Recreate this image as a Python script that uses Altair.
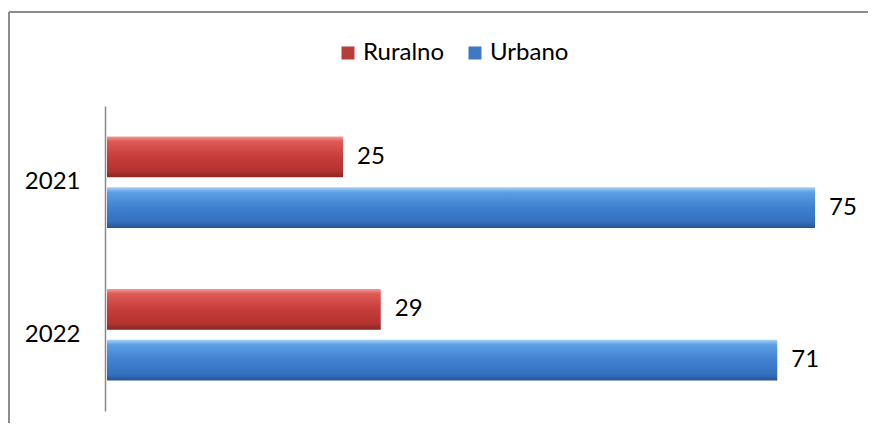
import altair as alt
import pandas as pd

years = ["2021", "2021", "2022", "2022"]
series = ["Ruralno", "Urbano", "Ruralno", "Urbano"]
values = [25, 75, 29, 71]

df = pd.DataFrame({"year": years, "series": series, "value": values})

FONT = "Lato"
W, H = 859, 411

red_grad = alt.Gradient(
    gradient="linear", x1=0, y1=0, x2=0, y2=1,
    stops=[
        alt.GradientStop(offset=0, color="#f29a97"),
        alt.GradientStop(offset=0.12, color="#de5a56"),
        alt.GradientStop(offset=0.5, color="#c63d3a"),
        alt.GradientStop(offset=0.85, color="#b3322f"),
        alt.GradientStop(offset=1, color="#8a2522"),
    ],
)
blue_grad = alt.Gradient(
    gradient="linear", x1=0, y1=0, x2=0, y2=1,
    stops=[
        alt.GradientStop(offset=0, color="#a6d2f8"),
        alt.GradientStop(offset=0.12, color="#5d9fe4"),
        alt.GradientStop(offset=0.5, color="#3f80d0"),
        alt.GradientStop(offset=0.85, color="#3570c0"),
        alt.GradientStop(offset=1, color="#27528f"),
    ],
)

xscale = alt.Scale(domain=[0, 75], range=[98, 806], zero=True, nice=False)
yscale = alt.Scale(range=[94, 399], paddingInner=0.4, paddingOuter=0.2)
yoff = alt.YOffset("series:N", scale=alt.Scale(paddingInner=0.2, paddingOuter=0), sort=["Ruralno", "Urbano"])

x_enc = alt.X("value:Q", scale=xscale, axis=None)
y_enc = alt.Y(
    "year:N", scale=yscale, title=None, sort=["2021", "2022"],
    axis=alt.Axis(
        offset=-96, domainColor="#888888", domainWidth=1.5, ticks=False,
        labelFont=FONT, labelFontSize=24, labelColor="#000000", labelPadding=25,
        grid=False,
    ),
)

base = alt.Chart(df)

legend_layer = base.mark_square(opacity=0).encode(
    x=x_enc, y=y_enc, yOffset=yoff,
    color=alt.Color(
        "series:N",
        scale=alt.Scale(domain=["Ruralno", "Urbano"], range=["#b83c3a", "#3f78c4"]),
        legend=alt.Legend(
            title=None, orient="none", legendX=327, legendY=29, direction="horizontal",
            symbolType="square", symbolSize=169, symbolOpacity=1, symbolStrokeWidth=0,
            labelFont=FONT, labelFontSize=24, labelColor="#000000", labelOffset=3,
            columnPadding=18,
        ),
    ),
)

red_bars = base.transform_filter(alt.datum.series == "Ruralno").mark_bar(fill=red_grad).encode(
    x=x_enc, y=y_enc, yOffset=yoff
)
blue_bars = base.transform_filter(alt.datum.series == "Urbano").mark_bar(fill=blue_grad).encode(
    x=x_enc, y=y_enc, yOffset=yoff
)

labels = base.mark_text(align="left", baseline="middle", dx=14, font=FONT, fontSize=24, color="#000000").encode(
    x=x_enc, y=y_enc, yOffset=yoff, text="value:Q"
)

frame_df = pd.DataFrame({"k": [0]})
frame_top = alt.Chart(frame_df).mark_rule(color="#8c8c8c", strokeWidth=2).encode(
    x=alt.value(0), x2=alt.value(W + 10), y=alt.value(0)
)
frame_left = alt.Chart(frame_df).mark_rule(color="#8c8c8c", strokeWidth=2).encode(
    x=alt.value(0), y=alt.value(0), y2=alt.value(H + 10)
)

chart = alt.layer(frame_top, frame_left, legend_layer, red_bars, blue_bars, labels).properties(
    width=W, height=H,
    autosize=alt.AutoSizeParams(type="none"),
    padding={"left": 1, "top": 4, "right": 0, "bottom": 0},
).configure_view(stroke=None).configure(background="#ffffff")

chart.save("out.html", embed_options={"renderer": "svg", "actions": False})
